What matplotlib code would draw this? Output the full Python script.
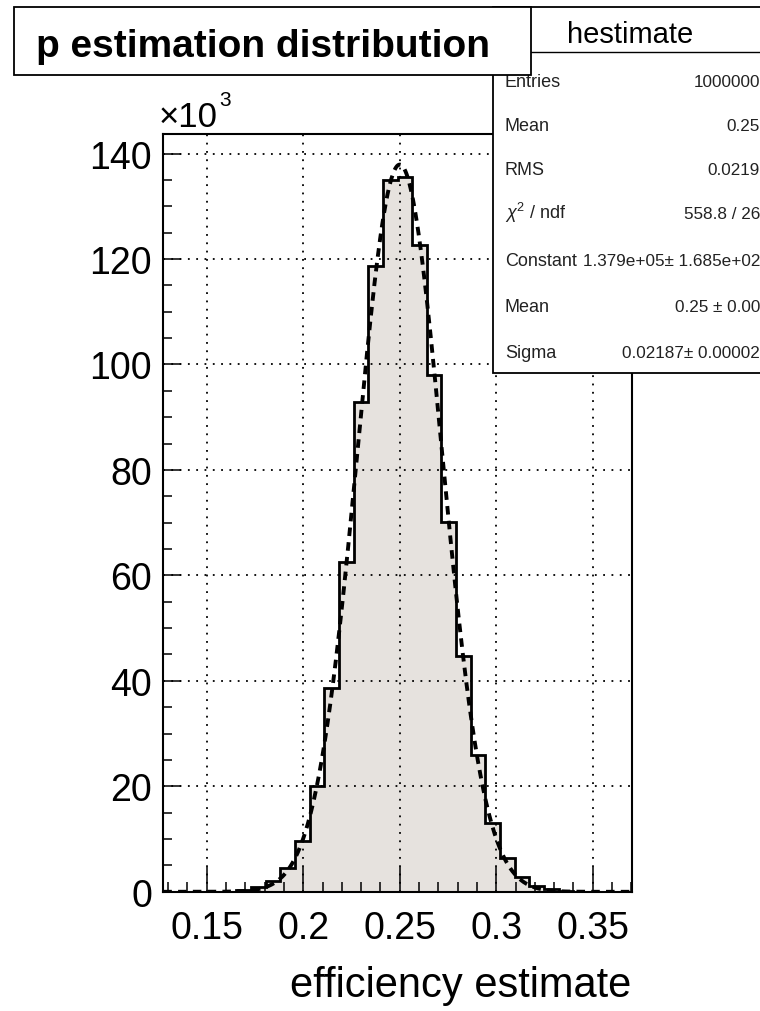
import matplotlib
matplotlib.use('Agg')
import matplotlib.pyplot as plt
import numpy as np
from matplotlib.patches import Rectangle
from matplotlib.lines import Line2D

plt.rcParams['font.family'] = ['Liberation Sans', 'DejaVu Sans']
plt.rcParams['mathtext.fontset'] = 'custom'
plt.rcParams['mathtext.rm'] = 'Liberation Sans'
plt.rcParams['mathtext.it'] = 'Liberation Sans:italic'
plt.rcParams['hatch.color'] = '#cfc8c0'
plt.rcParams['hatch.linewidth'] = 0.6

# histogram definition (32 bins) and bin contents in units of 10^3
hist_min = 0.1275
hist_max = 0.3702
n_bins = 32
counts_k = [0.0, 0.0, 0.0, 0.0, 0.05, 0.3, 0.9, 2.0,
            4.45, 9.6, 20.1, 38.6, 62.5, 92.8, 118.7, 134.9,
            135.6, 122.7, 98.0, 70.2, 44.8, 25.9, 13.0, 6.35,
            2.75, 1.1, 0.45, 0.15, 0.05, 0.02, 0.0, 0.0]

# gaussian fit result (from the stats box)
fit_constant = 1.379e5
fit_mean = 0.25
fit_sigma = 0.02187

x_ticks = [0.15, 0.2, 0.25, 0.3, 0.35]
x_tick_labels = ['0.15', '0.2', '0.25', '0.3', '0.35']
y_ticks = [0, 20, 40, 60, 80, 100, 120, 140]
y_max = 143.7

stat_labels = ['Entries', 'Mean', 'RMS', r'$\chi^2$ / ndf', 'Constant', 'Mean', 'Sigma']
stat_values = ['1000000', '0.25', '0.0219', '558.8 / 26',
               '1.379e+05\u00b1 1.685e+02', '0.25 \u00b1 0.00', '0.02187\u00b1 0.00002']

W, H = 760, 1012


def fx(px):
    return px / W


def fy(py):
    return 1 - py / H


fig = plt.figure(figsize=(7.6, 10.12), dpi=100)
ax_left, ax_right, ax_top, ax_bottom = 163.3, 631.7, 135, 892.8
ax = fig.add_axes([fx(ax_left), fy(ax_bottom), (ax_right - ax_left) / W, (ax_bottom - ax_top) / H])

edges = np.linspace(hist_min, hist_max, n_bins + 1)
ax.stairs(counts_k, edges, fill=True, facecolor='#e6e2de', edgecolor='none', hatch='.....', zorder=1)
ax.stairs(counts_k, edges, baseline=0, color='black', lw=2.0, zorder=3)

xf = np.linspace(hist_min, hist_max, 500)
yf = fit_constant / 1000 * np.exp(-0.5 * ((xf - fit_mean) / fit_sigma) ** 2)
ax.plot(xf, yf, color='black', lw=2.8, linestyle=(0, (2.2, 1.6)), zorder=4)

ax.set_xlim(hist_min, hist_max)
ax.set_ylim(0, y_max)
ax.set_xticks(x_ticks)
ax.set_xticklabels(x_tick_labels)
ax.set_xticks(np.arange(0.13, 0.371, 0.01), minor=True)
ax.set_yticks(y_ticks)
ax.set_yticks(np.arange(0, 143, 5), minor=True)

ax.grid(True, which='major', color='black', lw=1.3, linestyle=(0, (1, 3.6)))
ax.set_axisbelow(False)
for gl in ax.get_xgridlines() + ax.get_ygridlines():
    gl.set_zorder(2)

ax.tick_params(axis='x', which='major', direction='in', length=18, width=1.1, labelsize=27, pad=13)
ax.tick_params(axis='x', which='minor', direction='in', length=7.2, width=1.1)
ax.tick_params(axis='y', which='major', direction='in', length=13, width=1.1, labelsize=27, pad=8)
ax.tick_params(axis='y', which='minor', direction='in', length=6.5, width=1.1)
for s in ax.spines.values():
    s.set_linewidth(1.5)

# exponent label
fig.text(fx(159), fy(127), '\u00d710', fontsize=25, va='baseline', ha='left')
fig.text(fx(219), fy(106), '3', fontsize=15, va='baseline', ha='left')

# x axis title
fig.text(fx(631), fy(997), 'efficiency estimate', fontsize=30, ha='right', va='baseline')

# stats box
fig.add_artist(Rectangle((fx(493), fy(374)), fx(770) - fx(493), fy(8) - fy(374),
                         transform=fig.transFigure, facecolor='white', edgecolor='black',
                         lw=1.3, zorder=5))
fig.add_artist(Line2D([fx(493), fx(770)], [fy(53), fy(53)], transform=fig.transFigure,
                      color='black', lw=1.0, zorder=5.1))
fig.text(fx(630), fy(43), 'hestimate', fontsize=21, ha='center', va='baseline', zorder=5.2)
row_y = [87, 131, 175, 219, 266, 312, 358]
for lab, val, yy in zip(stat_labels, stat_values, row_y):
    fig.text(fx(505), fy(yy), lab, fontsize=13, ha='left', va='baseline', zorder=5.2, color='#222222')
    fig.text(fx(760), fy(yy), val, fontsize=12.3, ha='right', va='baseline', zorder=5.2, color='#222222')

# title box drawn over the stats box
fig.add_artist(Rectangle((fx(14), fy(76)), fx(531) - fx(14), fy(8) - fy(76),
                         transform=fig.transFigure, facecolor='white', edgecolor='black',
                         lw=1.3, zorder=6))
fig.text(fx(263), fy(57), 'p estimation distribution', fontsize=28, fontweight='bold',
         ha='center', va='baseline', zorder=7)

fig.savefig('out.png', dpi=100)
